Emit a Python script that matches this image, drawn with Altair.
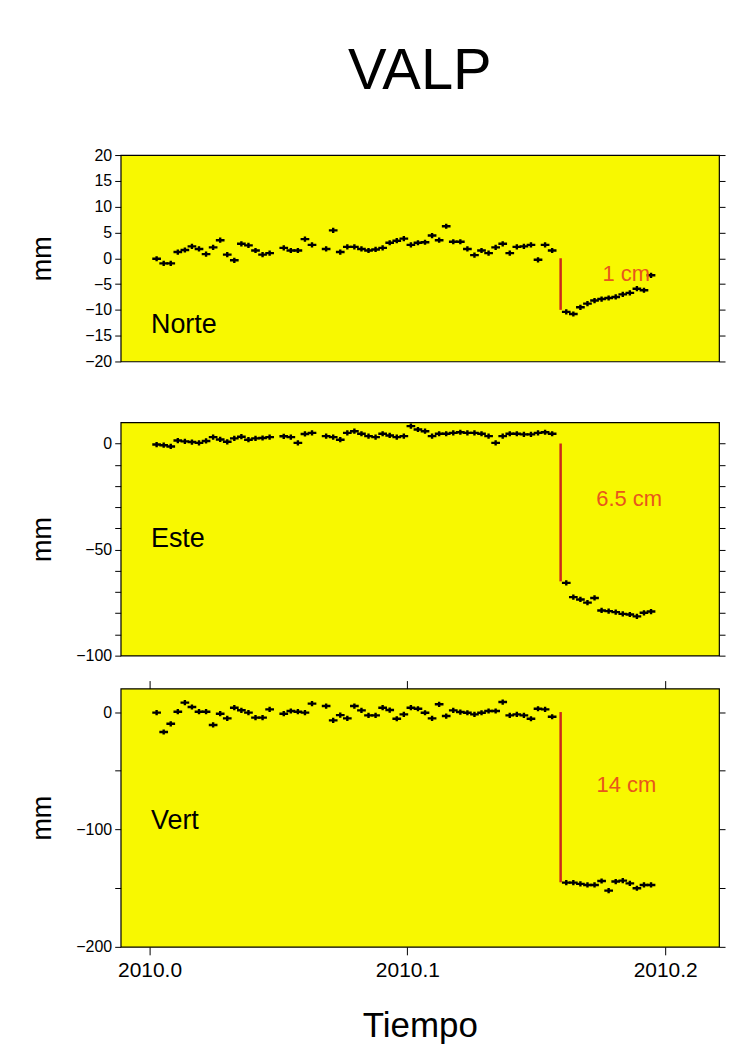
import altair as alt
import pandas as pd

FONT = "Liberation Sans"
YELLOW = "#F8F800"
LINE_RED = "#CC2A1A"
TEXT_RED = "#E8561C"

YEAR0 = 2010
# day-of-year of each daily solution
days_pre = list(range(1, 18)) + list(range(19, 24)) + list(range(25, 58))
days_post = list(range(59, 72))
event_day = 58.2

norte_pre = [-0.1, -1.0, -1.0, 1.2, 1.6, 2.3, 1.8, 0.8, 2.1, 3.5, 0.7, -0.4, 2.8, 2.5, 1.5, 0.7, 1.0,
             2.0, 1.5, 1.5, 3.7, 2.6,
             1.8, 5.4, 1.2, 2.2, 2.2, 1.8, 1.5, 1.7, 2.0, 3.0, 3.4, 3.8, 2.6, 3.0, 3.1, 4.4, 3.5, 6.2,
             3.2, 3.2, 1.8, 0.6, 1.5, 1.0, 2.1, 2.8, 1.0, 2.2, 2.3, 2.6, -0.3, 2.6, 1.5]
norte_post = [-10.4, -10.8, -9.5, -8.8, -8.2, -7.9, -7.7, -7.5, -7.0, -6.7, -5.9, -6.2, -3.3]

este_pre = [-0.5, -0.8, -1.4, 1.4, 1.0, 0.7, 0.3, 1.2, 3.0, 1.9, 0.8, 2.4, 3.2, 1.8, 2.4, 2.6, 3.0,
            3.4, 3.0, 0.3, 4.5, 5.0,
            3.5, 3.0, 1.8, 5.0, 5.8, 4.6, 3.5, 3.0, 4.6, 3.8, 3.0, 3.5, 8.2, 6.6, 5.8, 3.5, 4.6, 4.6,
            5.0, 5.3, 5.0, 5.0, 4.6, 3.5, 0.3, 3.5, 4.6, 4.6, 4.3, 4.3, 5.0, 5.3, 4.6]
este_post = [-65.7, -72.4, -73.5, -75.0, -72.8, -78.7, -79.0, -79.5, -80.3, -80.6, -81.5, -79.8, -79.2]

vert_pre = [-0.5, -17.0, -10.0, 0.3, 8.0, 4.3, 0.3, 0.3, -11.0, -1.4, -5.4, 3.7, 1.5, -0.5, -4.8, -4.8, 2.3,
            -1.4, 0.9, 0.3, -0.5, 7.2,
            5.1, -7.1, -2.6, -5.4, 5.1, 1.4, -2.8, -2.8, 3.7, 1.7, -5.7, -2.0, 3.7, 2.8, -0.6, -5.4, 6.6,
            -3.4, 1.4, 0.0, -0.6, -2.0, -0.6, 0.9, 0.9, 8.5, -2.8, -2.0, -2.8, -5.7, 2.8, 2.3, -4.0]
vert_post = [-145.3, -145.3, -146.4, -147.3, -147.3, -143.9, -152.1, -144.4, -143.6, -145.9, -150.1, -147.3, -147.3]

components = ["Norte", "Este", "Vert"]
comp_label_v = [-13.0, -45.0, -93.0]
comp_label_day = 0.2
steps = [[0, -10], [0, -65], [0, -145]]
step_labels = ["1 cm", "6.5 cm", "14 cm"]
step_label_v = [-3.0, -26.0, -62.0]
step_label_day = [67.5, 67.9, 67.5]

x_ticks = [2010.0, 2010.1, 2010.2]
x_domain = [2009.9888, 2010.2209]

PLUS = "M-1,0L1,0M0,-0.6L0,0.6"


def to_year(d):
    return YEAR0 + d / 365.0


def panel(i, pre, post, ydomain, yticks, label_every, height, title_pad, xbottom, xtop):
    df = pd.DataFrame({"t": [to_year(d) for d in days_pre + days_post], "v": pre + post})
    xs = alt.Scale(domain=x_domain, nice=False, zero=False)
    ys = alt.Scale(domain=ydomain, nice=False, zero=False)
    left_axis = alt.Axis(orient="left", values=yticks,
                         labelExpr=f"datum.value % {label_every} == 0 ? datum.label : ''",
                         tickSize=6, labelPadding=3, labelFontSize=16, title="mm",
                         titleFontSize=27, titleFontWeight="normal", titlePadding=title_pad,
                         domain=False, grid=False)
    right_axis = alt.Axis(orient="right", values=yticks, labels=False, tickSize=6,
                          title=None, domain=False, grid=False)
    pts = alt.Chart(df).mark_point(shape=PLUS, filled=False, color="black", strokeWidth=2.4,
                                   size=76, opacity=1).encode(
        x=alt.X("t:Q", scale=xs, axis=xbottom),
        y=alt.Y("v:Q", scale=ys, axis=left_axis))
    rdf = pd.DataFrame({"t": [to_year(event_day)], "v0": [steps[i][0]], "v1": [steps[i][1]]})
    rule = alt.Chart(rdf).mark_rule(color=LINE_RED, strokeWidth=2.5).encode(
        x=alt.X("t:Q", scale=xs, axis=xtop),
        y=alt.Y("v0:Q", scale=ys, axis=right_axis),
        y2="v1:Q")
    sdf = pd.DataFrame({"t": [to_year(step_label_day[i])], "v": [step_label_v[i]], "txt": [step_labels[i]]})
    stxt = alt.Chart(sdf).mark_text(font=FONT, fontSize=22, color=TEXT_RED, align="center",
                                    baseline="middle").encode(
        x=alt.X("t:Q", scale=xs, axis=None), y=alt.Y("v:Q", scale=ys, axis=None), text="txt:N")
    cdf = pd.DataFrame({"t": [to_year(comp_label_day)], "v": [comp_label_v[i]], "txt": [components[i]]})
    ctxt = alt.Chart(cdf).mark_text(font=FONT, fontSize=27, color="black", align="left",
                                    baseline="middle").encode(
        x=alt.X("t:Q", scale=xs, axis=None), y=alt.Y("v:Q", scale=ys, axis=None), text="txt:N")
    return alt.layer(pts, rule, stxt, ctxt).resolve_axis(x="independent", y="independent").properties(
        width=600, height=height)


p1_bottom = alt.Axis(orient="bottom", values=[2010.1], ticks=False, domain=False, grid=False,
                     labelColor="white", labelFontSize=16, labelPadding=25, title=None)
p3_bottom = alt.Axis(orient="bottom", values=x_ticks, format=".1f", tickSize=8, labelPadding=5,
                     labelFontSize=21, title="Tiempo", titleFontSize=35, titleFontWeight="normal",
                     titlePadding=28, domain=False, grid=False)
p3_top = alt.Axis(orient="top", values=x_ticks, labels=False, tickSize=8, title=None,
                  domain=False, grid=False)

p1 = panel(0, norte_pre, norte_post, [-20, 20], list(range(-20, 21, 5)), 5, 207, 28,
           p1_bottom, None).properties(
    title=alt.TitleParams("VALP", fontSize=58, fontWeight="normal", anchor="middle",
                          frame="group", offset=46, font=FONT, color="black"))
p2 = panel(1, este_pre, este_post, [-100, 10], list(range(-100, 1, 10)), 50, 234, 19, None, None)
p3 = panel(2, vert_pre, vert_post, [-200, 20], list(range(-200, 1, 50)), 100, 259, 19,
           p3_bottom, p3_top)

chart = alt.vconcat(p1, p2, p3, spacing=14).properties(
    padding={"left": 20, "top": 33, "right": 5, "bottom": 5},
    background="white"
).configure_view(fill=YELLOW, stroke="black", strokeWidth=1.2).configure_axis(
    labelFont=FONT, titleFont=FONT, tickColor="black", labelColor="black", titleColor="black",
    tickWidth=1
)

chart.save("out.html", embed_options={"renderer": "svg", "actions": False})
